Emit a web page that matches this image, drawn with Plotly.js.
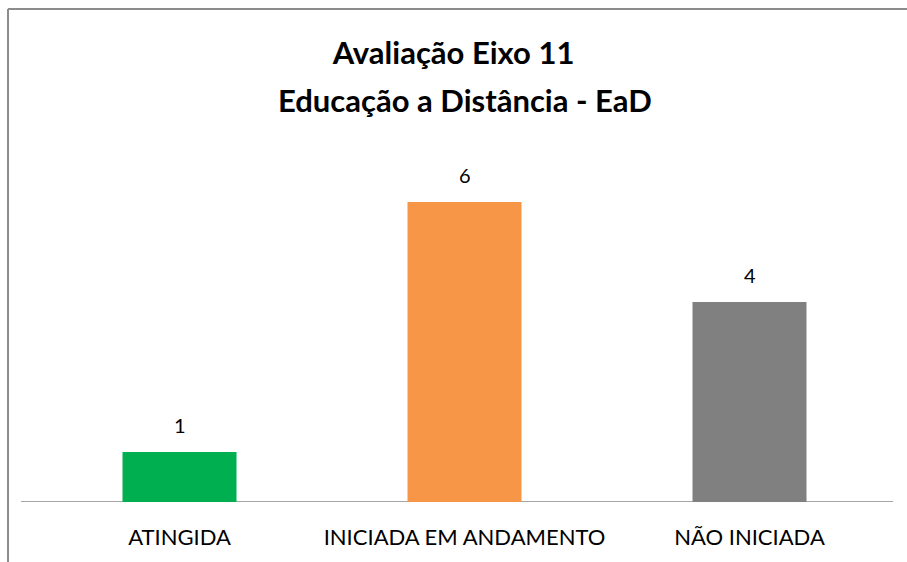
<!DOCTYPE html>
<html>
<head>
<meta charset="utf-8">
<script src="https://cdn.plot.ly/plotly-3.0.1.min.js"></script>
<style>html,body{margin:0;padding:0;background:#fff;}#chart{width:907px;height:562px;}</style>
</head>
<body>
<div id="chart"></div>
<script>
const categories = ["ATINGIDA", "INICIADA EM ANDAMENTO", "NÃO INICIADA"];
const values = [1, 6, 4];
const barColors = ["#00B050", "#F79646", "#808080"];
const titleLines = ["Avaliação Eixo 11", "Educação a Distância - EaD"];

const FONT = 'Lato, "Open Sans", sans-serif';

const trace = {
  type: "bar",
  x: categories,
  y: values,
  marker: {color: barColors},
  hoverinfo: "skip"
};

const valueLabels = categories.map((c, i) => ({
  x: c, y: values[i], xref: "x", yref: "y",
  text: String(values[i]), showarrow: false,
  yanchor: "middle", yshift: 27,
  font: {family: FONT, size: 20, color: "#000"}
}));

const layout = {
  width: 907, height: 562,
  margin: {l: 37, r: 15, t: 152, b: 60},
  paper_bgcolor: "#fff", plot_bgcolor: "#fff",
  showlegend: false,
  bargap: 0.6,
  title: {
    text: "<b>" + titleLines[0] + "</b>",
    font: {family: FONT, size: 31, color: "#000"},
    x: 0.5, xanchor: "center",
    y: 1 - 53 / 562, yanchor: "middle", yref: "container"
  },
  xaxis: {
    type: "category",
    showline: false, showgrid: false, zeroline: false,
    ticks: "", ticklen: 0,
    ticklabelstandoff: 20,
    tickfont: {family: FONT, size: 22, color: "#000"}
  },
  yaxis: {
    range: [0, 7],
    visible: false, showgrid: false, zeroline: false
  },
  annotations: [
    {xref: "paper", yref: "paper", x: 0.5, y: (502 - 100) / 350, xanchor: "center", yanchor: "middle",
     showarrow: false, text: "<b>" + titleLines[1] + "</b>",
     font: {family: FONT, size: 31, color: "#000"}}
  ].concat(valueLabels),
  shapes: [
    {type: "line", xref: "paper", yref: "y", x0: -0.0187, x1: 1.0012, y0: 0, y1: 0,
     line: {color: "#A6A6A6", width: 2}, layer: "below"},
    {type: "line", xref: "paper", yref: "paper", x0: -0.0339, x1: -0.0339, y0: 1.4086, y1: -0.2,
     line: {color: "#8C8C8C", width: 2}},
    {type: "line", xref: "paper", yref: "paper", x0: -0.0339, x1: 1.05, y0: 1.4086, y1: 1.4086,
     line: {color: "#8C8C8C", width: 2}}
  ]
};

Plotly.newPlot("chart", [trace], layout, {staticPlot: true, displayModeBar: false});
</script>
</body>
</html>
